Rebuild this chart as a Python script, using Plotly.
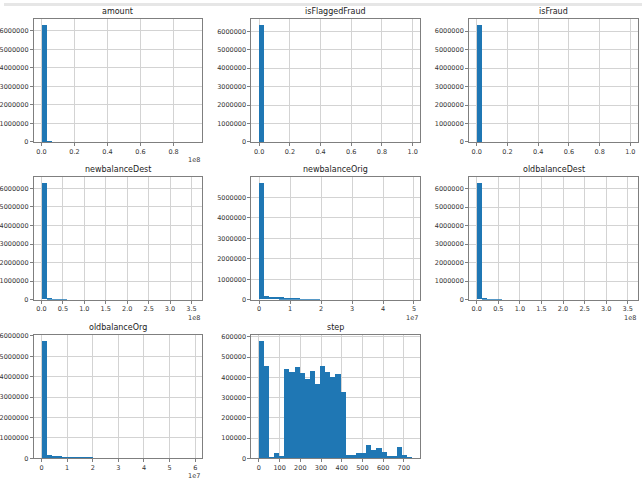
import numpy as np
import plotly.graph_objects as go

W, H = 642, 487

# ---------------- data (30-bin histograms, counts) ----------------
names = ["amount", "isFlaggedFraud", "isFraud", "newbalanceDest",
         "newbalanceOrig", "oldbalanceDest", "oldbalanceOrg", "step"]
col_min = [0.0, 0.0, 0.0, 0.0, 0.0, 0.0, 0.0, 1.0]
col_max = [92445516.64, 1.0, 1.0, 356179278.92, 49585040.37, 356015889.35, 59585040.37, 743.0]
x_scale = [1e8, 1, 1, 1e8, 1e7, 1e8, 1e7, 1]
x_offset_label = ["1e8", "", "", "1e8", "1e7", "1e8", "1e7", ""]

amount_counts = [6330000, 30000, 2000, 400, 100, 40, 20, 10, 6, 4, 3, 2, 1, 1, 1,
                 1, 1, 0, 0, 0, 0, 0, 0, 0, 0, 0, 0, 0, 0, 1]
isFlaggedFraud_counts = [6362604] + [0] * 28 + [16]
isFraud_counts = [6354407] + [0] * 28 + [8213]
newbalanceDest_counts = [6275000, 80000, 3000, 600, 150, 50, 20, 10, 6, 4, 3, 2, 1, 1, 1,
                         1, 1, 0, 0, 0, 0, 0, 0, 0, 0, 0, 0, 0, 0, 1]
newbalanceOrig_counts = [5700000, 160000, 125000, 105000, 90000, 75000, 60000, 25000, 2500, 800,
                         300, 150, 80, 50, 30, 20, 15, 10, 8, 6, 5, 4, 3, 2, 2,
                         1, 1, 1, 1, 1]
oldbalanceDest_counts = [6285000, 70000, 3000, 600, 150, 50, 20, 10, 6, 4, 3, 2, 1, 1, 1,
                         1, 1, 0, 0, 0, 0, 0, 0, 0, 0, 0, 0, 0, 0, 1]
oldbalanceOrg_counts = [5750000, 180000, 130000, 100000, 80000, 60000, 30000, 18000, 14000, 11000,
                        9000, 7000, 600, 200, 100, 60, 40, 30, 20, 15, 10, 8, 6, 4, 3,
                        2, 2, 1, 1, 1]
step_counts = [580000, 456000, 2000, 28000, 9000, 443000, 424000, 453000, 422000, 394000,
               430000, 366000, 456000, 427000, 402000, 415000, 328000, 17000, 17000, 25000,
               25000, 64000, 40000, 49000, 33000, 9000, 11000, 53000, 17000, 4000]

all_counts = [amount_counts, isFlaggedFraud_counts, isFraud_counts, newbalanceDest_counts,
              newbalanceOrig_counts, oldbalanceDest_counts, oldbalanceOrg_counts, step_counts]

# tick settings (scaled units)
x_dtick = [0.2, 0.2, 0.2, 0.5, 1, 0.5, 1, 100]
x_fmt = [".1f", ".1f", ".1f", ".1f", "d", ".1f", "d", "d"]
y_dtick = [1e6, 1e6, 1e6, 1e6, 1e6, 1e6, 1e6, 1e5]

# ---------------- layout geometry (pixels) ----------------
col_px = [(30, 199), (249, 419), (468, 638)]
row_px = [(16, 141), (177, 301), (337, 462)]

BAR = "#1f77b4"
GRID = "#d3d3d3"
FRAME = "#7f7f7f"
FONT = "DejaVu Sans"

fig = go.Figure()
annotations = []
layout = {}

for i, name in enumerate(names):
    r, c = divmod(i, 3)
    counts = np.array(all_counts[i], dtype=float)
    nb = len(counts)
    edges = np.linspace(col_min[i], col_max[i], nb + 1) / x_scale[i]
    centers = (edges[:-1] + edges[1:]) / 2
    width = edges[1] - edges[0]
    xa = "x" if i == 0 else f"x{i+1}"
    ya = "y" if i == 0 else f"y{i+1}"
    fig.add_trace(go.Bar(x=centers, y=counts, width=width, marker=dict(color=BAR, line=dict(width=0)),
                         xaxis=xa, yaxis=ya, showlegend=False, hoverinfo="skip"))
    lo, hi = edges[0], edges[-1]
    span = hi - lo
    x0p, x1p = col_px[c]
    y0p, y1p = row_px[r]
    xdom = [x0p / W, x1p / W]
    ydom = [1 - y1p / H, 1 - y0p / H]
    common = dict(showline=True, linecolor=FRAME, linewidth=1, mirror=True,
                  showgrid=True, gridcolor=GRID, gridwidth=1, zeroline=False,
                  ticks="outside", ticklen=3, tickcolor=FRAME,
                  tickfont=dict(family=FONT, size=6.5, color="#333333"))
    layout["xaxis" if i == 0 else f"xaxis{i+1}"] = dict(
        domain=xdom, anchor=ya, range=[lo - 0.05 * span, hi + 0.05 * span],
        dtick=x_dtick[i], tick0=0, tickformat=x_fmt[i], **common)
    layout["yaxis" if i == 0 else f"yaxis{i+1}"] = dict(
        domain=ydom, anchor=xa, range=[0, 1.05 * counts.max()],
        dtick=y_dtick[i], tick0=0, tickformat="d", **common)
    annotations.append(dict(text=name, x=(xdom[0] + xdom[1]) / 2, y=ydom[1], xref="paper", yref="paper",
                            xanchor="center", yanchor="bottom", yshift=1, showarrow=False,
                            font=dict(family=FONT, size=8, color="#222222")))
    if x_offset_label[i]:
        annotations.append(dict(text=x_offset_label[i], x=xdom[1], y=ydom[0], xref="paper", yref="paper",
                                xanchor="right", yanchor="top", yshift=-12, showarrow=False,
                                font=dict(family=FONT, size=6.5, color="#333333")))

fig.update_layout(
    width=W, height=H, margin=dict(l=0, r=0, t=0, b=0),
    paper_bgcolor="white", plot_bgcolor="white",
    bargap=0, annotations=annotations,
    shapes=[dict(type="rect", xref="paper", yref="paper", x0=0, x1=1, y0=1 - 3 / H, y1=1,
                 fillcolor="#e6e6e6", line=dict(width=0), layer="below")],
    **layout,
)

fig.write_html("out.html")
